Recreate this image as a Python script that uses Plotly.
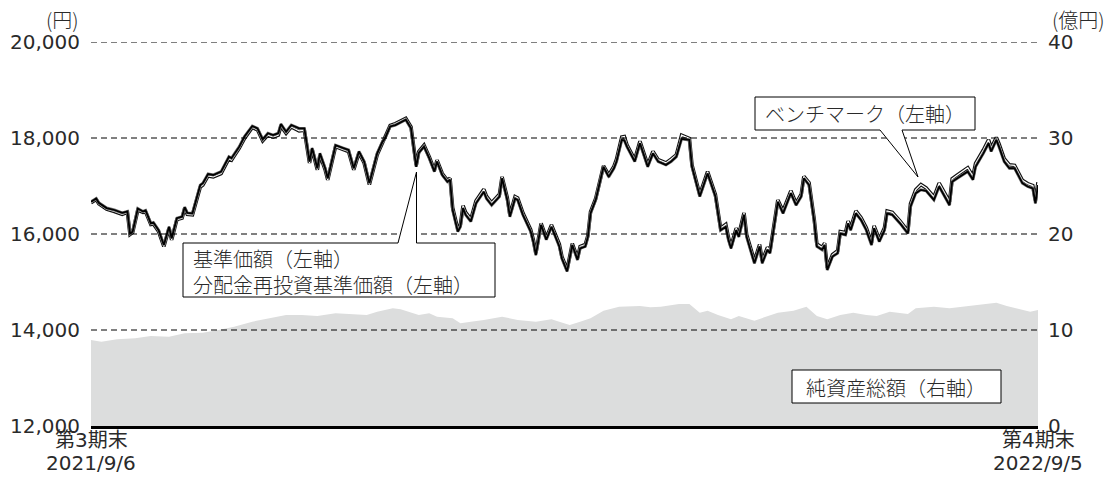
import plotly.graph_objects as go

# ---------------- data ----------------
price_dates = [
    "2021-09-06","2021-09-08","2021-09-09","2021-09-12","2021-09-15","2021-09-18","2021-09-20","2021-09-21",
    "2021-09-22","2021-09-24","2021-09-26","2021-09-27","2021-09-29","2021-09-30","2021-10-02","2021-10-04",
    "2021-10-06","2021-10-07","2021-10-09","2021-10-11","2021-10-12","2021-10-13","2021-10-15","2021-10-18",
    "2021-10-19","2021-10-21","2021-10-23","2021-10-26","2021-10-29","2021-10-30","2021-11-02","2021-11-04",
    "2021-11-07","2021-11-09","2021-11-11","2021-11-13","2021-11-15","2021-11-17","2021-11-18","2021-11-20",
    "2021-11-22","2021-11-25","2021-11-27","2021-11-29","2021-11-30","2021-12-02","2021-12-03","2021-12-05",
    "2021-12-06","2021-12-09","2021-12-12","2021-12-14","2021-12-16","2021-12-18","2021-12-20","2021-12-22",
    "2021-12-25","2021-12-27","2021-12-28","2021-12-30","2022-01-01","2022-01-05","2022-01-07","2022-01-09",
    "2022-01-10","2022-01-12","2022-01-14","2022-01-16","2022-01-17","2022-01-19","2022-01-21","2022-01-22",
    "2022-01-23","2022-01-25","2022-01-26","2022-01-27","2022-01-28","2022-01-30","2022-02-01","2022-02-04",
    "2022-02-05","2022-02-07","2022-02-10","2022-02-11","2022-02-13","2022-02-14","2022-02-16","2022-02-17",
    "2022-02-19","2022-02-22","2022-02-23","2022-02-24","2022-02-26","2022-02-28","2022-03-02","2022-03-05",
    "2022-03-06","2022-03-08","2022-03-10","2022-03-12","2022-03-13","2022-03-15","2022-03-16","2022-03-17",
    "2022-03-19","2022-03-22","2022-03-24","2022-03-26","2022-03-27","2022-03-29","2022-03-30","2022-03-31",
    "2022-04-03","2022-04-05","2022-04-08","2022-04-10","2022-04-12","2022-04-15","2022-04-17","2022-04-19",
    "2022-04-21","2022-04-24","2022-04-25","2022-04-28","2022-05-01","2022-05-04","2022-05-06","2022-05-08",
    "2022-05-09","2022-05-10","2022-05-12","2022-05-13","2022-05-15","2022-05-16","2022-05-19","2022-05-21",
    "2022-05-22","2022-05-24","2022-05-25","2022-05-28","2022-05-30","2022-06-02","2022-06-04","2022-06-06",
    "2022-06-07","2022-06-09","2022-06-11","2022-06-12","2022-06-14","2022-06-15","2022-06-16","2022-06-18",
    "2022-06-20","2022-06-21","2022-06-23","2022-06-24","2022-06-25","2022-06-27","2022-06-29","2022-07-01",
    "2022-07-03","2022-07-04","2022-07-06","2022-07-08","2022-07-09","2022-07-11","2022-07-14","2022-07-17",
    "2022-07-18","2022-07-20","2022-07-22","2022-07-24","2022-07-27","2022-07-29","2022-08-02","2022-08-03",
    "2022-08-05","2022-08-09","2022-08-11","2022-08-12","2022-08-15","2022-08-17","2022-08-18","2022-08-20",
    "2022-08-21","2022-08-23","2022-08-25","2022-08-27","2022-08-30","2022-09-01","2022-09-03","2022-09-04",
    "2022-09-05",
]

nav = [  # 基準価額 (円)
    16670,16740,16650,16540,16500,16440,16470,16010,16050,16530,16470,16490,16220,16240,16080,15770,
    16150,15910,16330,16360,16560,16440,16430,17020,17060,17250,17230,17300,17610,17580,17820,18030,
    18250,18200,17970,18100,18060,18100,18290,18130,18270,18200,18200,17510,17790,17370,17680,17370,
    17160,17850,17790,17750,17370,17720,17510,17060,17680,17920,17990,18240,18270,18380,18200,17400,
    17690,17820,17580,17300,17510,17230,17090,17130,16500,16050,16150,16540,16400,16260,16640,16880,
    16740,16600,16780,17160,16710,16360,16740,16710,16400,16050,15840,15560,16190,15880,16150,15740,
    15490,15220,15770,15460,15700,15740,15940,16430,16710,17400,17190,17370,17510,17960,17950,17820,
    17510,17890,17400,17680,17510,17440,17510,17610,17980,17960,17400,16780,17260,16780,16080,16150,
    15880,15700,16080,15940,16400,15940,15390,15740,15390,15670,15600,16670,16430,16850,16600,16780,
    17160,17020,16260,15740,15670,15770,15250,15530,15600,16010,15980,16220,16080,16430,16290,16080,
    15770,16120,15840,16080,16430,16400,16220,16010,16570,16850,16920,16900,16710,16990,16600,17090,
    17160,17300,17130,17400,17680,17890,17720,17960,17820,17510,17370,17370,17060,16990,16950,16640,
    17020,
]

reinvested_nav = nav  # 分配金再投資基準価額 (no distribution in the period -> same values)

benchmark = [  # ベンチマーク (円)
    16650,16720,16630,16520,16470,16410,16450,15990,16030,16500,16450,16460,16200,16210,16050,15740,
    16120,15880,16300,16330,16530,16410,16400,16980,17020,17210,17190,17260,17570,17540,17790,17990,
    18220,18170,17940,18060,18020,18060,18250,18100,18230,18150,18160,17480,17760,17340,17640,17340,
    17130,17820,17760,17720,17340,17690,17480,17030,17650,17900,17980,18260,18300,18410,18230,17430,
    17720,17850,17610,17330,17540,17260,17120,17160,16550,16100,16200,16590,16450,16310,16690,16930,
    16790,16650,16830,17190,16760,16400,16780,16750,16440,16090,15880,15600,16220,15920,16190,15790,
    15530,15260,15800,15500,15740,15780,15970,16460,16740,17420,17230,17410,17560,18020,18030,17860,
    17550,17930,17440,17720,17550,17480,17560,17650,18060,17990,17440,16820,17300,16820,16120,16200,
    15930,15740,16120,15990,16440,15990,15440,15780,15440,15720,15650,16710,16480,16900,16640,16830,
    17200,17070,16300,15790,15720,15810,15290,15570,15650,16050,16030,16270,16130,16480,16340,16130,
    15820,16170,15890,16130,16480,16450,16270,16060,16630,16920,17030,16960,16770,17060,16670,17150,
    17230,17380,17200,17470,17750,17960,17790,18010,17880,17570,17440,17430,17120,17050,17010,16700,
    17080,
]

asset_dates = [
    "2021-09-06","2021-09-10","2021-09-16","2021-09-23","2021-09-29","2021-10-06","2021-10-12","2021-10-19",
    "2021-10-25","2021-10-31","2021-11-07","2021-11-13","2021-11-20","2021-11-26","2021-12-02","2021-12-09",
    "2021-12-15","2021-12-21","2021-12-25","2021-12-31","2022-01-03","2022-01-07","2022-01-10","2022-01-14",
    "2022-01-17","2022-01-23","2022-01-26","2022-01-30","2022-02-04","2022-02-11","2022-02-17","2022-02-24",
    "2022-03-02","2022-03-05","2022-03-09","2022-03-13","2022-03-17","2022-03-22","2022-03-28","2022-04-05",
    "2022-04-09","2022-04-13","2022-04-20","2022-04-24","2022-04-28","2022-05-01","2022-05-05","2022-05-10",
    "2022-05-13","2022-05-19","2022-05-22","2022-05-28","2022-06-03","2022-06-08","2022-06-12","2022-06-16",
    "2022-06-21","2022-06-26","2022-07-01","2022-07-05","2022-07-10","2022-07-17","2022-07-20","2022-07-27",
    "2022-08-02","2022-08-09","2022-08-16","2022-08-20","2022-08-24","2022-08-29","2022-09-02","2022-09-05",
]

net_assets = [  # 純資産総額 (億円)
    8.96,8.78,9.03,9.13,9.38,9.30,9.65,9.72,10.00,10.35,10.87,11.22,11.56,11.56,11.46,11.74,
    11.67,11.56,11.91,12.26,12.15,11.80,11.56,11.74,11.39,11.22,10.70,10.87,11.04,11.39,11.04,10.87,
    11.11,10.87,10.52,10.87,11.22,12.01,12.43,12.50,12.36,12.43,12.71,12.71,11.80,12.01,11.56,11.11,
    11.46,10.97,11.22,11.80,12.01,12.43,11.46,11.11,11.56,11.80,11.56,11.46,11.91,11.67,12.26,12.43,
    12.26,12.50,12.78,12.85,12.50,12.15,11.91,12.08,
]

left_ticks = [12000, 14000, 16000, 18000, 20000]
right_ticks = [0, 10, 20, 30, 40]
x_ticks = ["2021-09-06", "2022-09-05"]
x_tick_period = ["第3期末", "第4期末"]
x_tick_date = ["2021/9/6", "2022/9/5"]

# ---------------- figure ----------------
FONT = "DejaVu Sans, Noto Sans CJK JP"
CJK = "Noto Sans CJK JP"
TXT = "#2a2a2a"
W, H = 1113, 484
ML, MR, MT, MB = 91, 75, 42, 58
PW, PH = W - ML - MR, H - MT - MB


def px(xpix):
    return (xpix - ML) / PW


def py(ypix):
    return (H - MB - ypix) / PH


fig = go.Figure()

fig.add_trace(go.Scatter(
    x=asset_dates, y=net_assets, yaxis="y2", mode="lines",
    line=dict(width=0, color="#dcdddd"), fill="tozeroy", fillcolor="#dcdddd",
    name="純資産総額（右軸）", hoverinfo="skip"))

fig.add_trace(go.Scatter(
    x=price_dates, y=benchmark, mode="lines",
    line=dict(width=3.6, color="#111111"), name="ベンチマーク（左軸）", hoverinfo="skip"))
fig.add_trace(go.Scatter(
    x=price_dates, y=benchmark, mode="lines",
    line=dict(width=1.3, color="#ffffff"), showlegend=False, hoverinfo="skip"))
fig.add_trace(go.Scatter(
    x=price_dates, y=reinvested_nav, mode="lines",
    line=dict(width=3, color="#777777"), name="分配金再投資基準価額（左軸）", hoverinfo="skip"))
fig.add_trace(go.Scatter(
    x=price_dates, y=nav, mode="lines",
    line=dict(width=1.8, color="#000000"), name="基準価額（左軸）", hoverinfo="skip"))

shapes = []
# dashed gridlines (above the area)
for v in left_ticks[1:]:
    shapes.append(dict(type="line", xref="paper", yref="y", x0=0, x1=1, y0=v, y1=v,
                       line=dict(color="#000000", width=1, dash="6px,4px"), layer="above"))

# callout: 基準価額 / 分配金再投資基準価額
path1 = "M {a},{b} L {c},{b} L {d},{e} L {d},{b} L {f},{b} L {f},{g} L {a},{g} Z".format(
    a=px(183), b=py(243), c=px(398), d=px(416.5), e=py(172), f=px(495), g=py(297))
shapes.append(dict(type="path", xref="paper", yref="paper", path=path1,
                   fillcolor="#ffffff", line=dict(color="#000000", width=1), layer="above"))
# callout: ベンチマーク
path2 = "M {a},{b} L {c},{b} L {c},{g} L {d},{g} L {e},{f} L {h},{g} L {a},{g} Z".format(
    a=px(755), b=py(97), c=px(975), g=py(130), d=px(902), e=px(918), f=py(177), h=px(880))
shapes.append(dict(type="path", xref="paper", yref="paper", path=path2,
                   fillcolor="#ffffff", line=dict(color="#000000", width=1), layer="above"))
# box: 純資産総額
shapes.append(dict(type="rect", xref="paper", yref="paper",
                   x0=px(792), x1=px(1001), y0=py(403), y1=py(370),
                   fillcolor="#ffffff", line=dict(color="#000000", width=1), layer="above"))

annotations = [
    dict(text="基準価額（左軸）", x=px(191), y=py(258), xanchor="left", yanchor="middle"),
    dict(text="分配金再投資基準価額（左軸）", x=px(191), y=py(284), xanchor="left", yanchor="middle"),
    dict(text="ベンチマーク（左軸）", x=px(865), y=py(113), xanchor="center", yanchor="middle"),
    dict(text="純資産総額（右軸）", x=px(896), y=py(387), xanchor="center", yanchor="middle"),
    dict(text="(円)", x=px(62), y=py(19), xanchor="center", yanchor="middle"),
    dict(text="(億円)", x=px(1078), y=py(20), xanchor="center", yanchor="middle"),
]
for a in annotations:
    a.update(xref="paper", yref="paper", showarrow=False,
             font=dict(family=CJK, size=20, color=TXT, weight=300))

# x-axis end labels (two lines, tighter spacing than a <br> tick label)
for xv, p_lab, d_lab in zip(x_ticks, x_tick_period, x_tick_date):
    annotations.append(dict(text=p_lab, x=xv, xref="x", y=py(440), yref="paper",
                            xanchor="center", yanchor="middle", showarrow=False,
                            font=dict(family=FONT, size=20, color=TXT)))
    annotations.append(dict(text=d_lab, x=xv, xref="x", y=py(463), yref="paper",
                            xanchor="center", yanchor="middle", showarrow=False,
                            font=dict(family=FONT, size=20, color=TXT)))

fig.update_layout(
    width=W, height=H,
    margin=dict(l=ML, r=MR, t=MT, b=MB, pad=0, autoexpand=False),
    paper_bgcolor="#ffffff", plot_bgcolor="#ffffff",
    showlegend=False, hovermode=False,
    font=dict(family=FONT, size=20, color=TXT),
    xaxis=dict(
        type="date", range=[x_ticks[0], x_ticks[-1]], automargin=False,
        tickmode="array", tickvals=x_ticks, showticklabels=False,
        ticks="inside", ticklen=7, tickwidth=2, tickcolor="#000000",
        showline=True, linewidth=2.5, linecolor="#000000",
        showgrid=False, zeroline=False,
    ),
    yaxis=dict(
        range=[left_ticks[0], left_ticks[-1]], automargin=False,
        tickmode="array", tickvals=left_ticks,
        tickformat=",d", showgrid=False, zeroline=False, showline=False,
        ticks="", ticklabelstandoff=10,
        tickfont=dict(family=FONT, size=20, color=TXT),
    ),
    yaxis2=dict(
        range=[right_ticks[0], right_ticks[-1]], overlaying="y", side="right", automargin=False,
        tickmode="array", tickvals=right_ticks,
        showgrid=False, zeroline=False, showline=False,
        ticks="", ticklabelstandoff=9,
        tickfont=dict(family=FONT, size=20, color=TXT),
    ),
    shapes=shapes,
    annotations=annotations,
)

# remove the browser's default 8px body margin so the figure sits at the page origin
fig.write_html("out.html", config={"displayModeBar": False},
               post_script="document.body.style.margin='0';document.body.style.overflow='hidden';")
